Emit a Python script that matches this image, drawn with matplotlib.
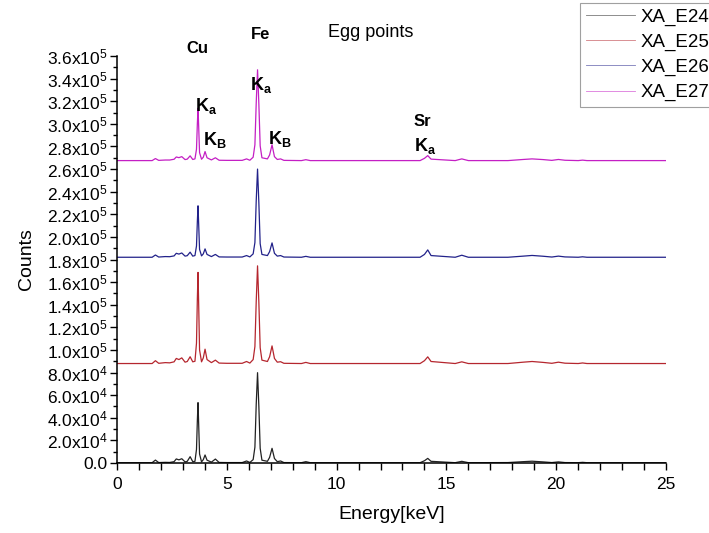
import numpy as np
import matplotlib
matplotlib.use("Agg")
import matplotlib.pyplot as plt
from matplotlib.ticker import FuncFormatter, MultipleLocator

plt.rcParams['font.family'] = ['Liberation Sans', 'DejaVu Sans']
plt.rcParams['mathtext.fontset'] = 'custom'
plt.rcParams['mathtext.rm'] = 'Liberation Sans'
plt.rcParams['mathtext.it'] = 'Liberation Sans:italic'
plt.rcParams['mathtext.bf'] = 'Liberation Sans:bold'

# energy points (keV)
energy = [0.0, 1.6, 1.75, 1.9, 2.2, 2.4, 2.6, 2.7, 2.82, 2.95, 3.1, 3.2, 3.33,
          3.45, 3.55, 3.62, 3.66, 3.69, 3.72, 3.76, 3.85, 3.93, 4.01, 4.1, 4.3,
          4.48, 4.65, 5.0, 5.7, 5.9, 6.05, 6.2, 6.28, 6.34, 6.4, 6.46, 6.52, 6.6,
          6.85, 6.95, 7.06, 7.17, 7.3, 7.45, 7.6, 8.4, 8.6, 8.8, 13.8, 14.0,
          14.15, 14.3, 15.4, 15.7, 16.0, 17.8, 18.5, 18.9, 19.4, 19.8, 20.1,
          20.4, 21.0, 21.2, 21.4, 25.0]

# counts above each spectrum's own baseline
e24 = [300, 300, 2600, 400, 600, 500, 1200, 3600, 2800, 3800, 1000, 1500, 5600,
       1200, 1500, 12000, 38000, 53400, 34000, 8000, 1000, 3000, 7100, 2500, 800,
       3500, 500, 400, 400, 1800, 500, 3000, 14000, 52000, 79900, 50000, 13000, 2500,
       1500, 5000, 13000, 4000, 1200, 1800, 400, 300, 1200, 300, 300, 2000,
       4100, 1500, 300, 1500, 300, 400, 1200, 1600, 1000, 400, 1000,
       400, 300, 600, 300, 300]
e25 = [0, 0, 2500, 200, 800, 600, 1500, 4500, 3500, 5000, 1200, 1800, 6000,
       1500, 2000, 18000, 58000, 80600, 52000, 12000, 1500, 5000, 12700, 3500, 800,
       3000, 400, 200, 200, 1800, 400, 3500, 15000, 55000, 86400, 54000, 14000, 3000,
       1800, 6000, 15600, 4500, 1200, 1600, 200, 0, 1000, 0, 0, 2500,
       5900, 1800, 0, 1500, 0, 0, 1200, 1800, 1000, 200, 1200,
       300, 0, 500, 0, 0]
e26 = [0, 0, 2000, 200, 600, 500, 1200, 3500, 2800, 3800, 1000, 1400, 4500,
       1000, 1500, 10000, 32000, 45500, 29000, 7000, 1200, 3000, 7400, 2500, 600,
       2500, 300, 200, 200, 1500, 300, 3000, 13000, 50000, 78000, 48000, 12000, 2500,
       1500, 5000, 12700, 3500, 1000, 1500, 200, 0, 800, 0, 0, 2500,
       6500, 1500, 0, 1800, 0, 0, 1000, 1600, 900, 200, 1000,
       300, 0, 400, 0, 0]
e27 = [0, 0, 1800, 200, 500, 500, 1200, 3200, 2600, 3500, 900, 1300, 4200,
       1000, 1500, 10000, 33000, 46400, 30000, 7000, 1200, 3000, 8000, 2500, 600,
       2500, 300, 200, 200, 1500, 300, 3000, 14000, 51000, 80300, 50000, 13000, 2500,
       1500, 5000, 14000, 3500, 1000, 1500, 200, 0, 800, 0, 0, 2000,
       4400, 1300, 0, 1500, 0, 0, 1000, 1500, 900, 200, 1000,
       300, 0, 400, 0, 0]

names = ["XA_E24", "XA_E25", "XA_E26", "XA_E27"]
offsets = [0, 88000, 182000, 267500]
colors = ["#222222", "#b5262e", "#22228a", "#c41fc4"]

fig = plt.figure(figsize=(7.09, 5.33), dpi=100)
ax = fig.add_axes([0.1650, 0.1313, 0.7744, 0.7636])

for name, sig, off, c in zip(names, [e24, e25, e26, e27], offsets, colors):
    ax.plot(energy, np.array(sig) + off, color=c, lw=0.9, label=name)

ax.set_xlim(0, 25)
ax.set_ylim(0, 3.6e5)
ax.spines['top'].set_visible(False)
ax.spines['right'].set_visible(False)
for s in ['left', 'bottom']:
    ax.spines[s].set_linewidth(1.1)

ax.xaxis.set_major_locator(MultipleLocator(5))
ax.xaxis.set_minor_locator(MultipleLocator(1))
ax.yaxis.set_major_locator(MultipleLocator(2e4))
ax.yaxis.set_minor_locator(MultipleLocator(1e4))


def sci(v, pos):
    if abs(v) < 1:
        return "0.0"
    if v < 0:
        return ""
    exp = int(np.floor(np.log10(v)))
    return r"$%.1f\mathrm{x}10^{%d}$" % (v / 10 ** exp, exp)


ax.yaxis.set_major_formatter(FuncFormatter(sci))
ax.tick_params(axis='y', which='major', length=5, width=1, labelsize=12.5, pad=2)
ax.tick_params(axis='y', which='minor', length=3, width=1)
ax.tick_params(axis='x', which='major', length=5, width=1, labelsize=12.5, pad=5)
ax.tick_params(axis='x', which='minor', length=5, width=1)

ax.set_xlabel("Energy[keV]", fontsize=14, labelpad=10)
ax.set_ylabel("Counts", fontsize=14, labelpad=8)

# peak annotations
bold = dict(fontweight='bold', ha='center', va='center', fontsize=12, clip_on=False)
ax.text(3.68, 367000, "Cu", **bold)
ax.text(6.55, 379000, "Fe", **bold)
ax.text(13.9, 302000, "Sr", **bold)
ax.text(11.55, 381000, "Egg points", ha='center', va='center', fontsize=13)
ax.text(4.05, 316000, r"$\mathbf{K_a}$", ha='center', va='center', fontsize=13)
ax.text(4.45, 286000, r"$\mathbf{K_B}$", ha='center', va='center', fontsize=13)
ax.text(6.55, 334500, r"$\mathbf{K_a}$", ha='center', va='center', fontsize=13)
ax.text(7.4, 287000, r"$\mathbf{K_B}$", ha='center', va='center', fontsize=13)
ax.text(14.05, 280000, r"$\mathbf{K_a}$", ha='center', va='center', fontsize=13)

leg = fig.legend(loc='upper right', bbox_to_anchor=(1.012, 1.0), fontsize=13.5,
                 frameon=True, fancybox=False, handlelength=2.6, handletextpad=0.3,
                 labelspacing=0.42, borderpad=0.3, borderaxespad=0.15)
leg.get_frame().set_edgecolor('#888888')
leg.get_frame().set_linewidth(0.8)
for h in leg.get_lines():
    h.set_linewidth(0.6)
    h.set_alpha(0.6)

fig.savefig("out.png", dpi=100)
